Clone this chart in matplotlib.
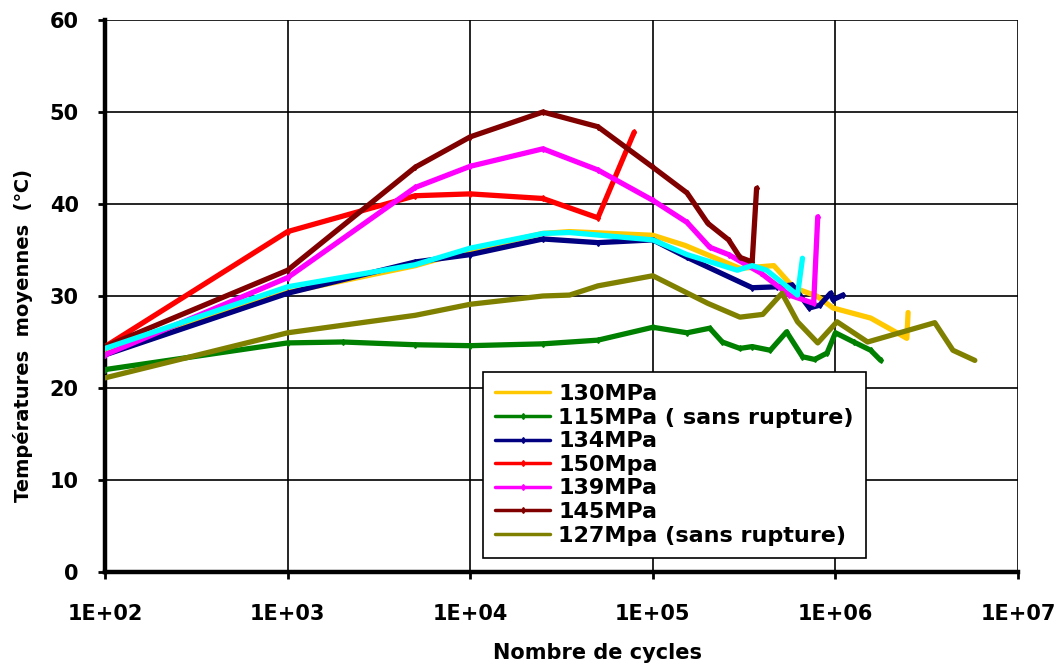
import matplotlib
matplotlib.use("Agg")
import matplotlib.pyplot as plt
from matplotlib.ticker import NullLocator

plt.rcParams['font.family'] = ['DejaVu Sans']
plt.rcParams['font.weight'] = 'bold'

# 130MPa (yellow)
n_130 = [1e2, 1e3, 5e3, 1e4, 2.5e4, 3.5e4, 1e5, 1.5e5, 3e5, 4.6e5, 5.9e5, 7.9e5, 9.7e5, 1.56e6, 2.46e6, 2.5e6]
t_130 = [24.0, 30.4, 33.3, 35.0, 36.8, 37.0, 36.6, 35.5, 33.0, 33.3, 30.9, 30.0, 28.7, 27.6, 25.4, 28.2]
# 115MPa (green)
n_115 = [1e2, 1e3, 2e3, 5e3, 1e4, 2.5e4, 5e4, 1e5, 1.54e5, 2.05e5, 2.4e5, 3e5, 3.5e5, 4.4e5, 5.4e5, 6.6e5, 7.7e5, 9e5, 1e6, 1.26e6, 1.56e6, 1.77e6]
t_115 = [22.0, 24.9, 25.0, 24.7, 24.6, 24.8, 25.2, 26.6, 26.0, 26.5, 25.0, 24.3, 24.5, 24.1, 26.1, 23.4, 23.1, 23.8, 26.0, 25.0, 24.1, 23.0]
# 134MPa (navy)
n_134 = [1e2, 1e3, 5e3, 1e4, 2.5e4, 5e4, 1e5, 1.54e5, 3.5e5, 4.8e5, 5.8e5, 7.2e5, 8.2e5, 9.4e5, 9.7e5, 1.1e6]
t_134 = [23.6, 30.3, 33.7, 34.5, 36.2, 35.8, 36.1, 34.2, 30.9, 31.0, 31.2, 28.7, 29.0, 30.3, 29.6, 30.1]
# 150Mpa (red)
n_150 = [1e2, 1e3, 5e3, 1e4, 2.5e4, 5e4, 7.9e4]
t_150 = [24.5, 37.0, 40.9, 41.1, 40.6, 38.5, 47.8]
# 139MPa (magenta)
n_139 = [1e2, 1e3, 5e3, 1e4, 2.5e4, 5e4, 1e5, 1.54e5, 2.05e5, 2.6e5, 3.9e5, 5.6e5, 7.6e5, 8.0e5]
t_139 = [23.6, 32.0, 41.8, 44.1, 46.0, 43.7, 40.4, 38.0, 35.3, 34.5, 32.5, 30.1, 29.2, 38.6]
# 145MPa (dark red)
n_145 = [1e2, 1e3, 5e3, 1e4, 2.5e4, 5e4, 1e5, 1.54e5, 2e5, 2.6e5, 3e5, 3.5e5, 3.7e5]
t_145 = [24.5, 32.8, 44.0, 47.3, 50.0, 48.4, 44.0, 41.2, 37.9, 36.1, 34.2, 33.7, 41.7]
# 127Mpa (olive)
n_127 = [1e2, 1e3, 5e3, 1e4, 2.5e4, 3.5e4, 5e4, 1e5, 2e5, 3e5, 4e5, 5.1e5, 6.2e5, 8e5, 1.02e6, 1.5e6, 3.5e6, 4.4e6, 5.8e6]
t_127 = [21.1, 26.0, 27.9, 29.1, 30.0, 30.1, 31.1, 32.2, 29.2, 27.7, 28.0, 30.3, 27.2, 24.9, 27.2, 25.0, 27.1, 24.1, 23.0]
# unlabeled cyan series
n_cy = [1e2, 1e3, 5e3, 1e4, 2.5e4, 3.5e4, 1e5, 1.54e5, 2.9e5, 3.5e5, 4.2e5, 6.2e5, 6.6e5]
t_cy = [24.3, 31.0, 33.4, 35.2, 36.8, 36.9, 36.1, 34.5, 32.8, 33.3, 32.8, 30.1, 34.1]

labels = ['130MPa', '115MPa ( sans rupture)', '134MPa', '150Mpa', '139MPa', '145MPa', '127Mpa (sans rupture)']
colors = ['#FFC800', '#008000', '#000080', '#FF0000', '#FF00FF', '#800000', '#808000']
markers = [None, 'd', 'd', 'd', 'd', 'd', None]

x_ticks = [1e2, 1e3, 1e4, 1e5, 1e6, 1e7]
x_ticklabels = ['1E+02', '1E+03', '1E+04', '1E+05', '1E+06', '1E+07']
y_ticks = [0, 10, 20, 30, 40, 50, 60]

fig = plt.figure(figsize=(10.62, 6.63), dpi=100)
ax = fig.add_axes([0.0989, 0.1373, 0.8597, 0.8325])

series = [(n_130, t_130), (n_115, t_115), (n_134, t_134), (n_150, t_150),
          (n_139, t_139), (n_145, t_145), (n_127, t_127)]
lw = 3.8
handles = []
for (n, t), c, lab, m in zip(series, colors, labels, markers):
    h, = ax.plot(n, t, color=c, lw=lw, label=lab, marker=m, markersize=3,
                 solid_capstyle='round', solid_joinstyle='round', zorder=3)
    handles.append(h)
ax.plot(n_cy, t_cy, color='#00FFFF', lw=lw, solid_capstyle='round', solid_joinstyle='round', zorder=3)

ax.set_xscale('log')
ax.set_xlim(1e2, 1e7)
ax.set_ylim(0, 60)
ax.set_xticks(x_ticks)
ax.set_xticklabels(x_ticklabels, fontweight='bold')
ax.xaxis.set_minor_locator(NullLocator())
ax.set_yticks(y_ticks)
ax.set_yticklabels([str(v) for v in y_ticks], fontweight='bold')
ax.grid(True, color='black', lw=1.2, zorder=1)
ax.set_axisbelow(True)
ax.tick_params(axis='x', which='major', labelsize=15, width=2, length=5, direction='out', pad=18)
ax.tick_params(axis='y', which='major', labelsize=15, width=2, length=5, direction='out', pad=14)

for s in ['top', 'right']:
    ax.spines[s].set_visible(False)
ax.spines['left'].set_linewidth(3.2)
ax.spines['bottom'].set_linewidth(3.2)

ax.set_xlabel('Nombre de cycles', fontsize=15, fontweight='bold')
ax.xaxis.set_label_coords(0.539, -0.1286)
ax.set_ylabel('Températures  moyennes  (℃)', fontsize=14, fontweight='bold')
ax.yaxis.set_label_coords(-0.0789, 0.429)

leg = fig.legend(handles=handles, loc='upper left', bbox_to_anchor=(483 / 1062, 1 - 372 / 663),
                 bbox_transform=fig.transFigure, borderaxespad=0,
                 frameon=True, fancybox=False, edgecolor='black', framealpha=1,
                 handlelength=2.48, handletextpad=0.36, labelspacing=0.16, borderpad=0.55,
                 prop={'weight': 'bold', 'size': 16})
leg.get_frame().set_linewidth(1.2)
for lh in leg.get_lines():
    lh.set_linewidth(2.5)

fig.savefig('out.png', dpi=100)
